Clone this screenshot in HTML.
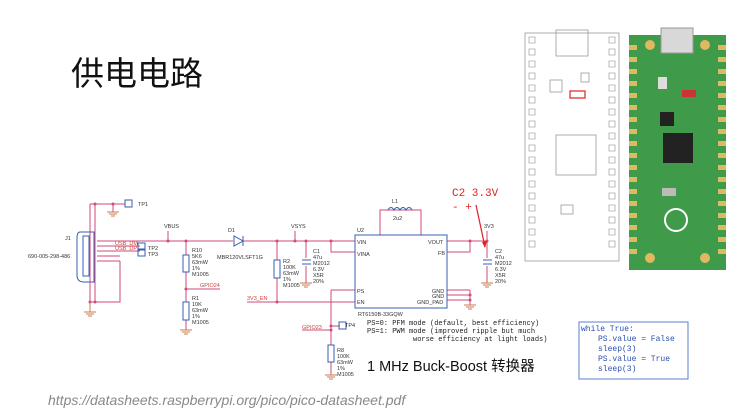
<!DOCTYPE html>
<html><head><meta charset="utf-8"><style>
html,body{margin:0;padding:0;background:#fff;width:734px;height:414px;overflow:hidden}
svg{display:block}
</style></head><body>
<svg width="734" height="414" viewBox="0 0 734 414" xmlns="http://www.w3.org/2000/svg" font-family="Liberation Sans, sans-serif">
<text x="71" y="85" font-size="33" font-family="Liberation Sans, Noto Sans CJK SC, sans-serif" fill="#111">供电电路</text>
<text x="48" y="405" font-size="14" font-style="italic" fill="#888">https://datasheets.raspberrypi.org/pico/pico-datasheet.pdf</text>

<g stroke="#d04a7a" stroke-width="1" fill="none">
<path d="M90 204H125M113 204V212M95 204V302M90 204V302M90 302H120V261"/>
<path d="M97 241H233M243 241H355M97 246H140M97 251H140M97 256H120M97 261H120"/>
<path d="M186 241V255M186 272V302M186 320V330M186 289H220"/>
<path d="M277 241V260M277 278V302M247 302H355M306 241V258M306 266V283"/>
<path d="M331 241V252H355M331 290H355M331 290V345M331 362V375M331 326H340M302 330H331"/>
<path d="M380 235V210H421V235"/>
<path d="M447 241H487M447 252H470V241M487 241V258M487 266V283M447 290H470M447 295H470M447 300H470M470 290V305"/>
<path d="M168 231V241M295 231V241M487 231V241"/>
</g>
<g fill="#d04a7a">
<circle cx="95" cy="204" r="1.5"/><circle cx="113" cy="204" r="1.5"/><circle cx="168" cy="241" r="1.5"/><circle cx="186" cy="241" r="1.5"/><circle cx="186" cy="289" r="1.5"/><circle cx="277" cy="241" r="1.5"/><circle cx="295" cy="241" r="1.5"/><circle cx="306" cy="241" r="1.5"/><circle cx="331" cy="241" r="1.5"/><circle cx="277" cy="302" r="1.5"/><circle cx="331" cy="326" r="1.5"/><circle cx="331" cy="330" r="1.5"/><circle cx="470" cy="241" r="1.5"/><circle cx="487" cy="241" r="1.5"/><circle cx="470" cy="295" r="1.5"/><circle cx="470" cy="300" r="1.5"/><circle cx="90" cy="302" r="1.5"/><circle cx="95" cy="302" r="1.5"/>
</g>
<g stroke="#c87a50" stroke-width="1">
<path d="M107 212H119M109 214H117M111 216H115"/>
<path d="M90 302V312M84 312H96M86 314H94M88 316H92"/>
<path d="M180 330H192M182 332H190M184 334H188"/>
<path d="M300 283H312M302 285H310M304 287H308"/>
<path d="M325 375H337M327 377H335M329 379H333"/>
<path d="M481 283H493M483 285H491M485 287H489"/>
<path d="M464 305H476M466 307H474M468 309H472"/>
</g>
<g stroke="#3a5fb0" stroke-width="1" fill="none">
<rect x="125" y="200" width="7" height="7"/>
<rect x="138" y="243" width="7" height="6"/><rect x="138" y="250" width="7" height="6"/>
<path d="M80 232Q77 232 77 238V275Q77 282 84 282H94V232Z"/>
<rect x="83" y="236" width="6" height="40"/>
<rect x="183" y="255" width="6" height="17"/><rect x="183" y="302" width="6" height="18"/>
<rect x="274" y="260" width="6" height="18"/><rect x="328" y="345" width="6" height="17"/>
<path d="M234 236V246L243 241ZM243 236V246"/>
<path d="M302 260H311M302 264H311M483 260H492M483 264H492"/>
<rect x="355" y="235" width="92" height="73"/>
<path d="M388 210q3-5 6 0q3-5 6 0q3-5 6 0q3-5 6 0"/>
<rect x="339" y="322" width="7" height="7"/>
</g>
<g font-size="5.5" fill="#333">
<text x="138" y="206">TP1</text><text x="65" y="240">J1</text><text x="28" y="258">690-005-298-486</text>
<text x="164" y="228">VBUS</text><text x="291" y="228">VSYS</text><text x="484" y="228">3V3</text>
<text x="148" y="250">TP2</text><text x="148" y="256">TP3</text>
<text x="192" y="252">R10</text><text x="192" y="258">5K6</text><text x="192" y="264">63mW</text><text x="192" y="270">1%</text><text x="192" y="276">M1005</text>
<text x="192" y="300">R1</text><text x="192" y="306">10K</text><text x="192" y="312">63mW</text><text x="192" y="318">1%</text><text x="192" y="324">M1005</text>
<text x="228" y="232">D1</text><text x="217" y="259">MBR120VLSFT1G</text>
<text x="283" y="263">R2</text><text x="283" y="269">100K</text><text x="283" y="275">63mW</text><text x="283" y="281">1%</text><text x="283" y="287">M1005</text>
<text x="313" y="253">C1</text><text x="313" y="259">47u</text><text x="313" y="265">M2012</text><text x="313" y="271">6.3V</text><text x="313" y="277">X5R</text><text x="313" y="283">20%</text>
<text x="337" y="352">R8</text><text x="337" y="358">100K</text><text x="337" y="364">63mW</text><text x="337" y="370">1%</text><text x="337" y="376">M1005</text>
<text x="357" y="232">U2</text><text x="357" y="244">VIN</text><text x="357" y="256">VINA</text><text x="357" y="293">PS</text><text x="357" y="304">EN</text>
<text x="428" y="244">VOUT</text><text x="438" y="255">FB</text><text x="432" y="293">GND</text><text x="432" y="298">GND</text><text x="417" y="304">GND_PAD</text>
<text x="358" y="316">RT6150B-33GQW</text>
<text x="392" y="203">L1</text><text x="393" y="220">2u2</text>
<text x="345" y="327">TP4</text>
<text x="495" y="253">C2</text><text x="495" y="259">47u</text><text x="495" y="265">M2012</text><text x="495" y="271">6.3V</text><text x="495" y="277">X5R</text><text x="495" y="283">20%</text>
</g>
<g font-size="5.5" fill="#d04040">
<text x="115" y="245">USB_DM</text><text x="115" y="250">USB_DP</text><text x="200" y="287">GPIO24</text><text x="247" y="300">3V3_EN</text><text x="302" y="329">GPIO23</text>
</g>
<text x="452" y="196" font-size="11" font-family="Liberation Mono, monospace" fill="#e02020">C2 3.3V</text>
<text x="452" y="210" font-size="11" font-family="Liberation Mono, monospace" fill="#e02020">- +</text>
<path d="M476 205L485 247" stroke="#e02020" stroke-width="1.2"/><path d="M482 242L485 248L487 241Z" fill="#e02020"/>
<g font-size="7" font-family="Liberation Mono, monospace" fill="#222">
<text x="367" y="325">PS=0: PFM mode (default, best efficiency)</text>
<text x="367" y="333">PS=1: PWM mode (improved ripple but much</text>
<text x="413" y="341">worse efficiency at light loads)</text>
</g>
<text x="367" y="371" font-size="14.5" font-family="Liberation Sans, Noto Sans CJK SC, sans-serif" fill="#111">1 MHz Buck-Boost 转换器</text>

<rect x="579" y="322" width="109" height="57" fill="#fff" stroke="#5a7fd0" stroke-width="1"/>
<g font-size="8" font-family="Liberation Mono, monospace" fill="#2a4fb0">
<text x="581" y="331">while True:</text><text x="598" y="341">PS.value = False</text><text x="598" y="351">sleep(3)</text><text x="598" y="361">PS.value = True</text><text x="598" y="371">sleep(3)</text>
</g>

<g stroke="#999" fill="none" stroke-width="0.8">
<rect x="525" y="33" width="94" height="228"/>
<rect x="556" y="30" width="32" height="26"/>
<rect x="550" y="80" width="12" height="12"/><rect x="556" y="135" width="40" height="40"/>
<rect x="561" y="205" width="12" height="9"/><rect x="581" y="73" width="8" height="9"/>
</g>
<g stroke="#aaa" fill="none" stroke-width="0.8">
<path d="M529 37h6v6h-6zM529 49h6v6h-6zM529 61h6v6h-6zM529 73h6v6h-6zM529 85h6v6h-6zM529 97h6v6h-6zM529 109h6v6h-6zM529 121h6v6h-6zM529 133h6v6h-6zM529 145h6v6h-6zM529 157h6v6h-6zM529 169h6v6h-6zM529 181h6v6h-6zM529 193h6v6h-6zM529 205h6v6h-6zM529 217h6v6h-6zM529 229h6v6h-6zM529 241h6v6h-6z"/>
<path d="M609 37h6v6h-6zM609 49h6v6h-6zM609 61h6v6h-6zM609 73h6v6h-6zM609 85h6v6h-6zM609 97h6v6h-6zM609 109h6v6h-6zM609 121h6v6h-6zM609 133h6v6h-6zM609 145h6v6h-6zM609 157h6v6h-6zM609 169h6v6h-6zM609 181h6v6h-6zM609 193h6v6h-6zM609 205h6v6h-6zM609 217h6v6h-6zM609 229h6v6h-6zM609 241h6v6h-6z"/>
</g>
<rect x="570" y="91" width="15" height="7" fill="none" stroke="#e02020" stroke-width="1.2"/>

<rect x="629" y="35" width="97" height="235" fill="#3f9a4a"/>
<g fill="#e0b860">
<rect x="629" y="45" width="8" height="5"/><rect x="629" y="57" width="8" height="5"/><rect x="629" y="69" width="8" height="5"/><rect x="629" y="81" width="8" height="5"/><rect x="629" y="93" width="8" height="5"/><rect x="629" y="105" width="8" height="5"/><rect x="629" y="117" width="8" height="5"/><rect x="629" y="129" width="8" height="5"/><rect x="629" y="141" width="8" height="5"/><rect x="629" y="153" width="8" height="5"/><rect x="629" y="165" width="8" height="5"/><rect x="629" y="177" width="8" height="5"/><rect x="629" y="189" width="8" height="5"/><rect x="629" y="201" width="8" height="5"/><rect x="629" y="213" width="8" height="5"/><rect x="629" y="225" width="8" height="5"/><rect x="629" y="237" width="8" height="5"/><rect x="629" y="249" width="8" height="5"/>
<rect x="718" y="45" width="8" height="5"/><rect x="718" y="57" width="8" height="5"/><rect x="718" y="69" width="8" height="5"/><rect x="718" y="81" width="8" height="5"/><rect x="718" y="93" width="8" height="5"/><rect x="718" y="105" width="8" height="5"/><rect x="718" y="117" width="8" height="5"/><rect x="718" y="129" width="8" height="5"/><rect x="718" y="141" width="8" height="5"/><rect x="718" y="153" width="8" height="5"/><rect x="718" y="165" width="8" height="5"/><rect x="718" y="177" width="8" height="5"/><rect x="718" y="189" width="8" height="5"/><rect x="718" y="201" width="8" height="5"/><rect x="718" y="213" width="8" height="5"/><rect x="718" y="225" width="8" height="5"/><rect x="718" y="237" width="8" height="5"/><rect x="718" y="249" width="8" height="5"/>
<circle cx="650" cy="45" r="5"/><circle cx="705" cy="45" r="5"/><circle cx="650" cy="258" r="5"/><circle cx="705" cy="258" r="5"/>
</g>
<rect x="661" y="28" width="32" height="25" fill="#d8d8d8" stroke="#999"/>
<rect x="658" y="77" width="9" height="12" fill="#ddd"/>
<rect x="682" y="90" width="14" height="7" fill="#c33"/>
<rect x="663" y="133" width="30" height="30" fill="#222"/>
<rect x="660" y="112" width="14" height="14" fill="#222"/>
<rect x="662" y="188" width="14" height="8" fill="#bbb"/>
<circle cx="676" cy="220" r="11" fill="none" stroke="#fff" stroke-width="2"/>
</svg>
</body></html>
